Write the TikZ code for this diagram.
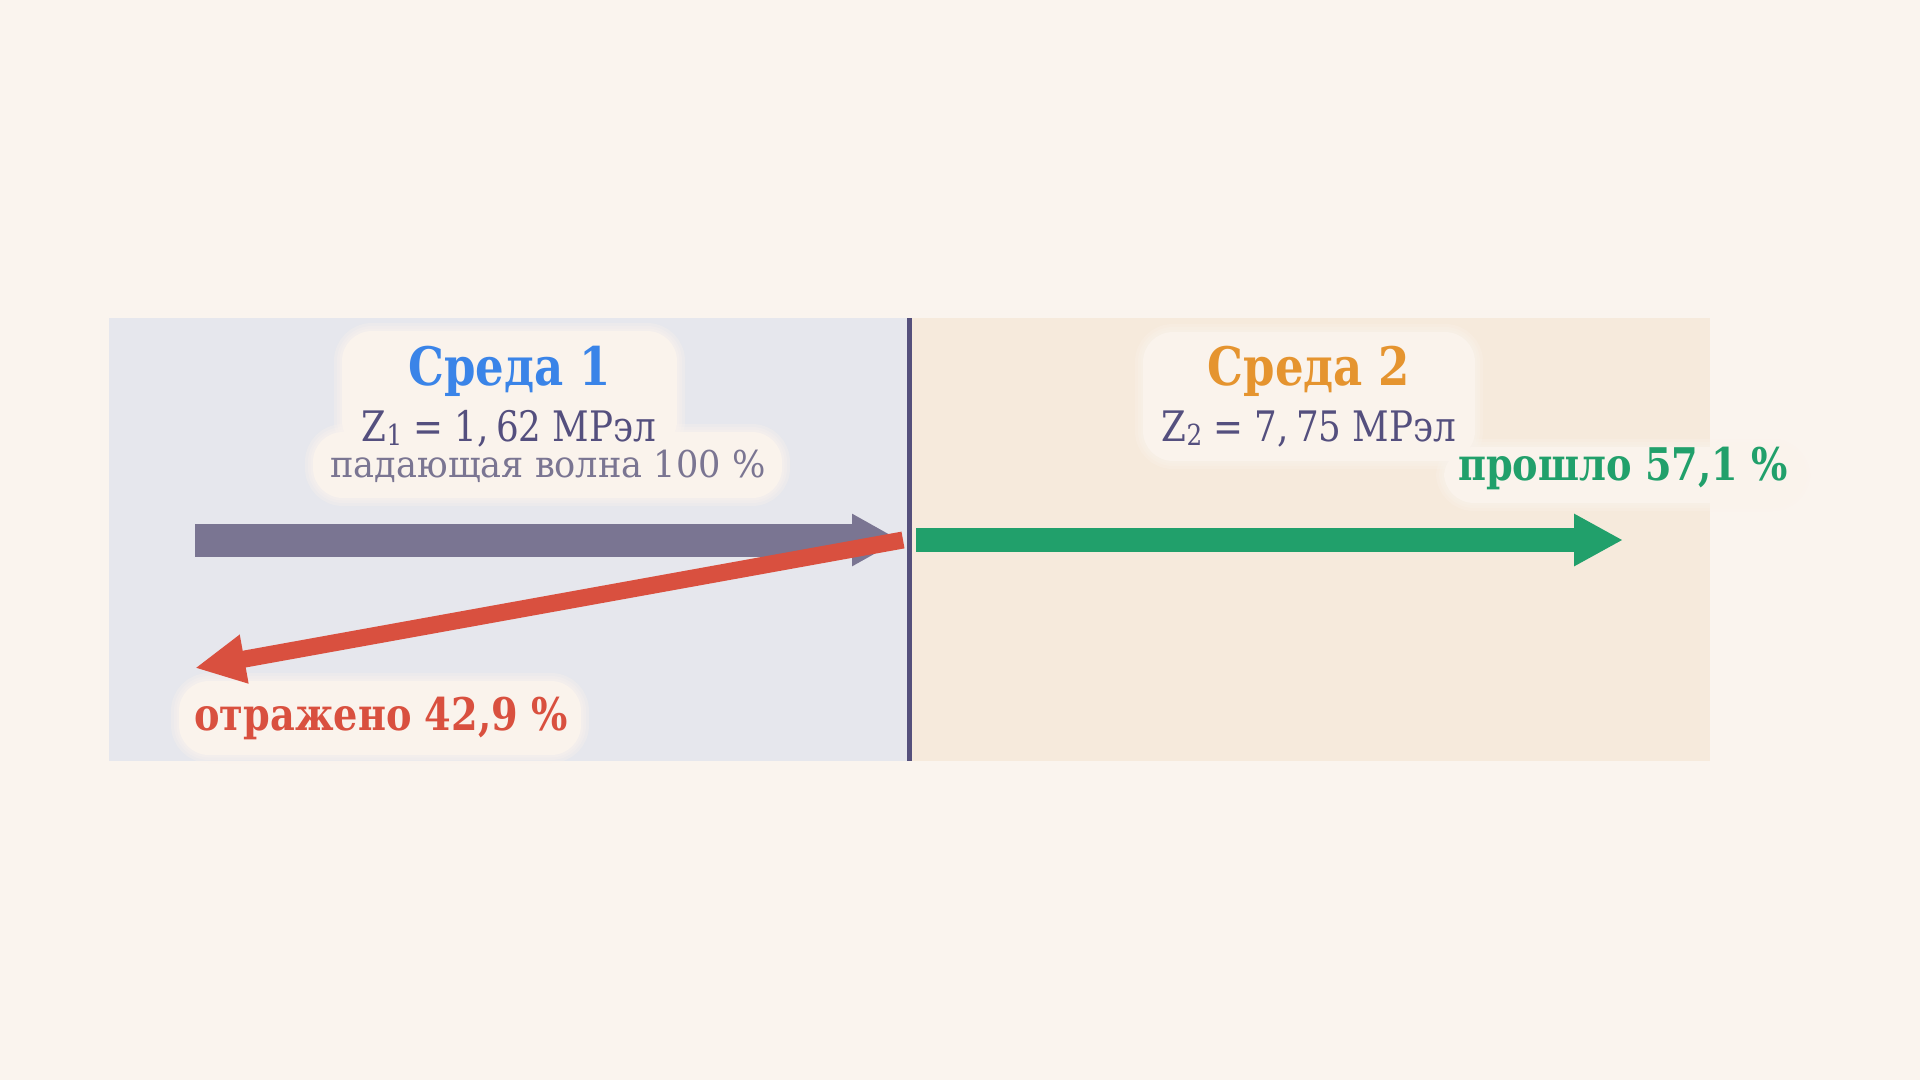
\documentclass[tikz,border=0pt]{standalone}
\usepackage{fontspec}
\setmainfont{DejaVu Serif}[FakeStretch=0.85]
\newfontfamily\narrowfont{DejaVu Serif}[FakeStretch=0.95]
\usetikzlibrary{arrows.meta}
\definecolor{bgcol}{HTML}{FAF4EE}
\definecolor{leftcol}{HTML}{E6E7ED}
\definecolor{rightcol}{HTML}{F6EADC}
\definecolor{divcol}{HTML}{55507C}
\definecolor{inccol}{HTML}{7A7592}
\definecolor{refcol}{HTML}{D9503F}
\definecolor{trcol}{HTML}{21A06B}
\definecolor{bluecol}{HTML}{3A84E8}
\definecolor{orcol}{HTML}{E5942F}
\definecolor{zcol}{HTML}{544F7E}
\definecolor{bubblecol}{HTML}{FAF3EC}
\newcommand{\zsub}[1]{\raisebox{-0.1em}{\fontsize{29}{29}\selectfont #1}}

\begin{document}
\begin{tikzpicture}[x=1pt,y=-1pt,
  bubble/.style={fill=bubblecol,rounded corners=30pt},
  halo/.style={draw=bubblecol,draw opacity=0.3,line width=#1,rounded corners=30pt},
  title/.style={anchor=base,font=\bfseries\fontsize{53}{60}\selectfont},
  zval/.style={anchor=base,text=zcol,font=\fontsize{42}{50}\selectfont},
  share/.style={anchor=base,font=\bfseries\fontsize{45}{54}\selectfont}]
\useasboundingbox (0,0) rectangle (1920,1080);
\fill[bgcol] (0,0) rectangle (1920,1080);
\fill[leftcol] (109,318) rectangle (909,761);
\fill[rightcol] (909,318) rectangle (1710,761);
\draw[divcol,line width=5pt] (909.5,318) -- (909.5,761);
% soft patches behind the labels
\foreach \xa/\ya/\xb/\yb in {342/331/677/451, 313/432/782/498, 1143/332/1475/461, 1444/447/1802/503, 179/681/581/755} {
  \foreach \w in {16pt,10pt,5pt}
    \draw[halo=\w] (\xa,\ya) rectangle (\xb,\yb);
  \fill[bubble] (\xa,\ya) rectangle (\xb,\yb);
}
% waves
\coordinate (inS) at (195,540);
\coordinate (inE) at (900,540);
\coordinate (trS) at (916,540);
\coordinate (trE) at (1623,540);
\coordinate (rfS) at (903,540);
\coordinate (rfE) at (195,668);
\draw[inccol,line width=33pt,-{Triangle[length=48pt,width=49pt]}] (inS) -- (inE);
\draw[trcol,line width=24pt,-{Triangle[length=49pt,width=49pt]}] (trS) -- (trE);
\draw[refcol,line width=17pt,-{Triangle[length=50pt,width=46pt]}] (rfS) -- (rfE);
% labels
\node[title,text=bluecol] (sr1) at (509.5,385) {Среда 1};
\node[zval] (z1) at (509,441) {Z\zsub{1} = 1,\,62 МРэл};
\node[anchor=base,text=inccol,font=\narrowfont\fontsize{37}{44}\selectfont] (inc) at (548,477) {падающая волна 100 \%};
\node[title,text=orcol] (sr2) at (1309,385) {Среда 2};
\node[zval] (z2) at (1309,441) {Z\zsub{2} = 7,\,75 МРэл};
\node[share,text=trcol] (tr) at (1623,480) {прошло 57,1 \%};
\node[share,text=refcol] (rf) at (381,730) {отражено 42,9 \%};
\end{tikzpicture}
\end{document}
